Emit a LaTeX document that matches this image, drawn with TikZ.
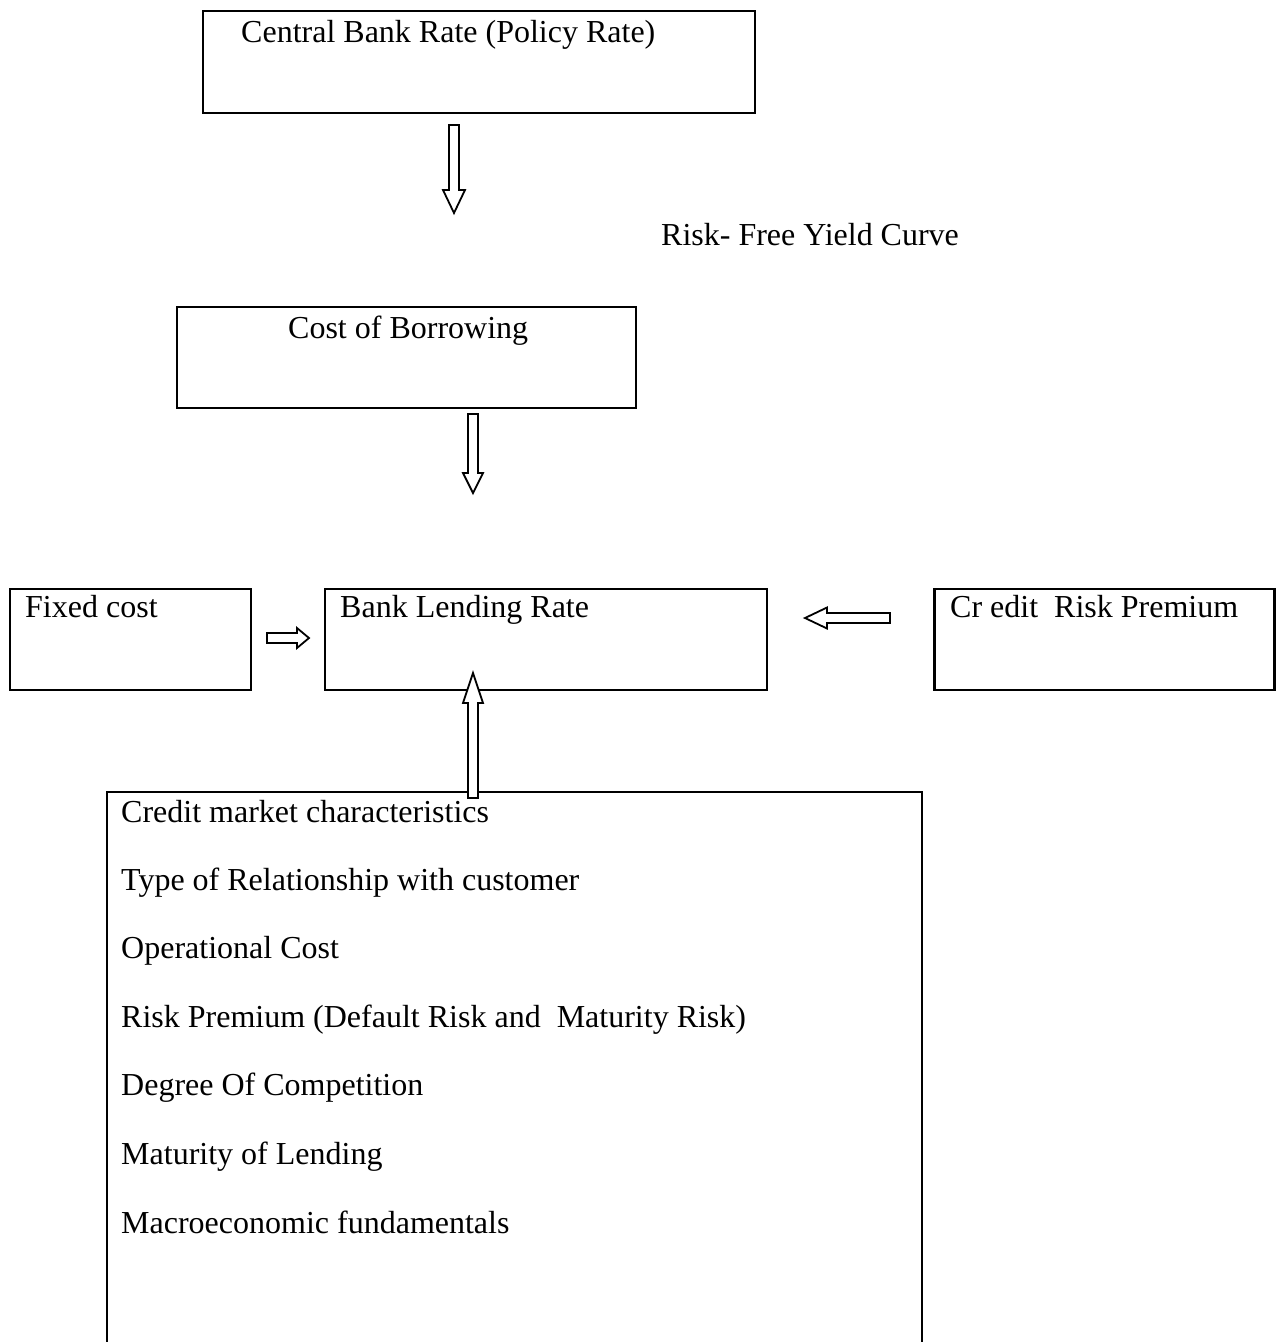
\documentclass[tikz,border=0pt]{standalone}
\usepackage{fontspec}
\setmainfont{Liberation Serif}
\begin{document}
\begin{tikzpicture}[x=1pt,y=-1pt,
  box/.style={draw, line width=2.2pt, inner sep=0pt, outer sep=0pt},
  lbl/.style={anchor=base west, inner sep=0pt, font=\fontsize{32}{38}\selectfont},
  blockarrow/.style={draw, fill=white, line width=1.8pt, line join=miter}]
\useasboundingbox (0,0) rectangle (1276,1342);
\fill[white] (0,0) rectangle (1276,1342);

% boxes
\node[box, minimum width=552pt, minimum height=102pt] (cb) at (479,62) {};
\node[box, minimum width=459pt, minimum height=101pt] (cob) at (406.5,357.5) {};
\node[box, minimum width=241pt, minimum height=101pt] (fc) at (130.5,639.5) {};
\node[box, minimum width=442pt, minimum height=101pt] (blr) at (546,639.5) {};
\node[box, minimum width=340pt, minimum height=101pt] (crp) at (1104.5,639.5) {};
\coordinate (bbl) at (107,1345);
\coordinate (bbtl) at (107,792);
\coordinate (bbtr) at (922,792);
\coordinate (bbr) at (922,1345);
\draw[line width=2.2pt] (bbl) -- (bbtl) -- (bbtr) -- (bbr);

% texts
\node[lbl] (tcb) at (241,42) {Central Bank Rate (Policy Rate)};
\node[lbl] (trf) at (661,245) {Risk- Free Yield Curve};
\node[lbl] (tcob) at (288,338) {Cost of Borrowing};
\node[lbl] (tfc) at (25,617) {Fixed cost};
\node[lbl] (tblr) at (340,617) {Bank Lending Rate};
\node[lbl] (tcrp) at (950,617) {Cr edit\ \ Risk Premium};
\node[lbl] (l1) at (121,822) {Credit market characteristics};
\node[lbl] (l2) at (121,890) {Type of Relationship with customer};
\node[lbl] (l3) at (121,958.5) {Operational Cost};
\node[lbl] (l4) at (121,1027) {Risk Premium (Default Risk and\ \ Maturity Risk)};
\node[lbl] (l5) at (121,1095.5) {Degree Of Competition};
\node[lbl] (l6) at (121,1164) {Maturity of Lending};
\node[lbl] (l7) at (121,1233) {Macroeconomic fundamentals};

% block arrows
\draw[blockarrow] (449,125) -- (459,125) -- (459,190) -- (465,190) -- (454,213)
  -- (443,190) -- (449,190) -- cycle;
\draw[blockarrow] (468,414) -- (478,414) -- (478,473) -- (483,473) -- (473,493)
  -- (463,473) -- (468,473) -- cycle;
\draw[blockarrow] (267,633) -- (297,633) -- (297,628) -- (309,638) -- (297,648)
  -- (297,643) -- (267,643) -- cycle;
\draw[blockarrow] (890,613) -- (827,613) -- (827,607.5) -- (805,618) -- (827,628.5)
  -- (827,623) -- (890,623) -- cycle;
\draw[blockarrow] (468,798) -- (478,798) -- (478,703) -- (483,703) -- (473,673)
  -- (463,703) -- (468,703) -- cycle;
\end{tikzpicture}
\end{document}
